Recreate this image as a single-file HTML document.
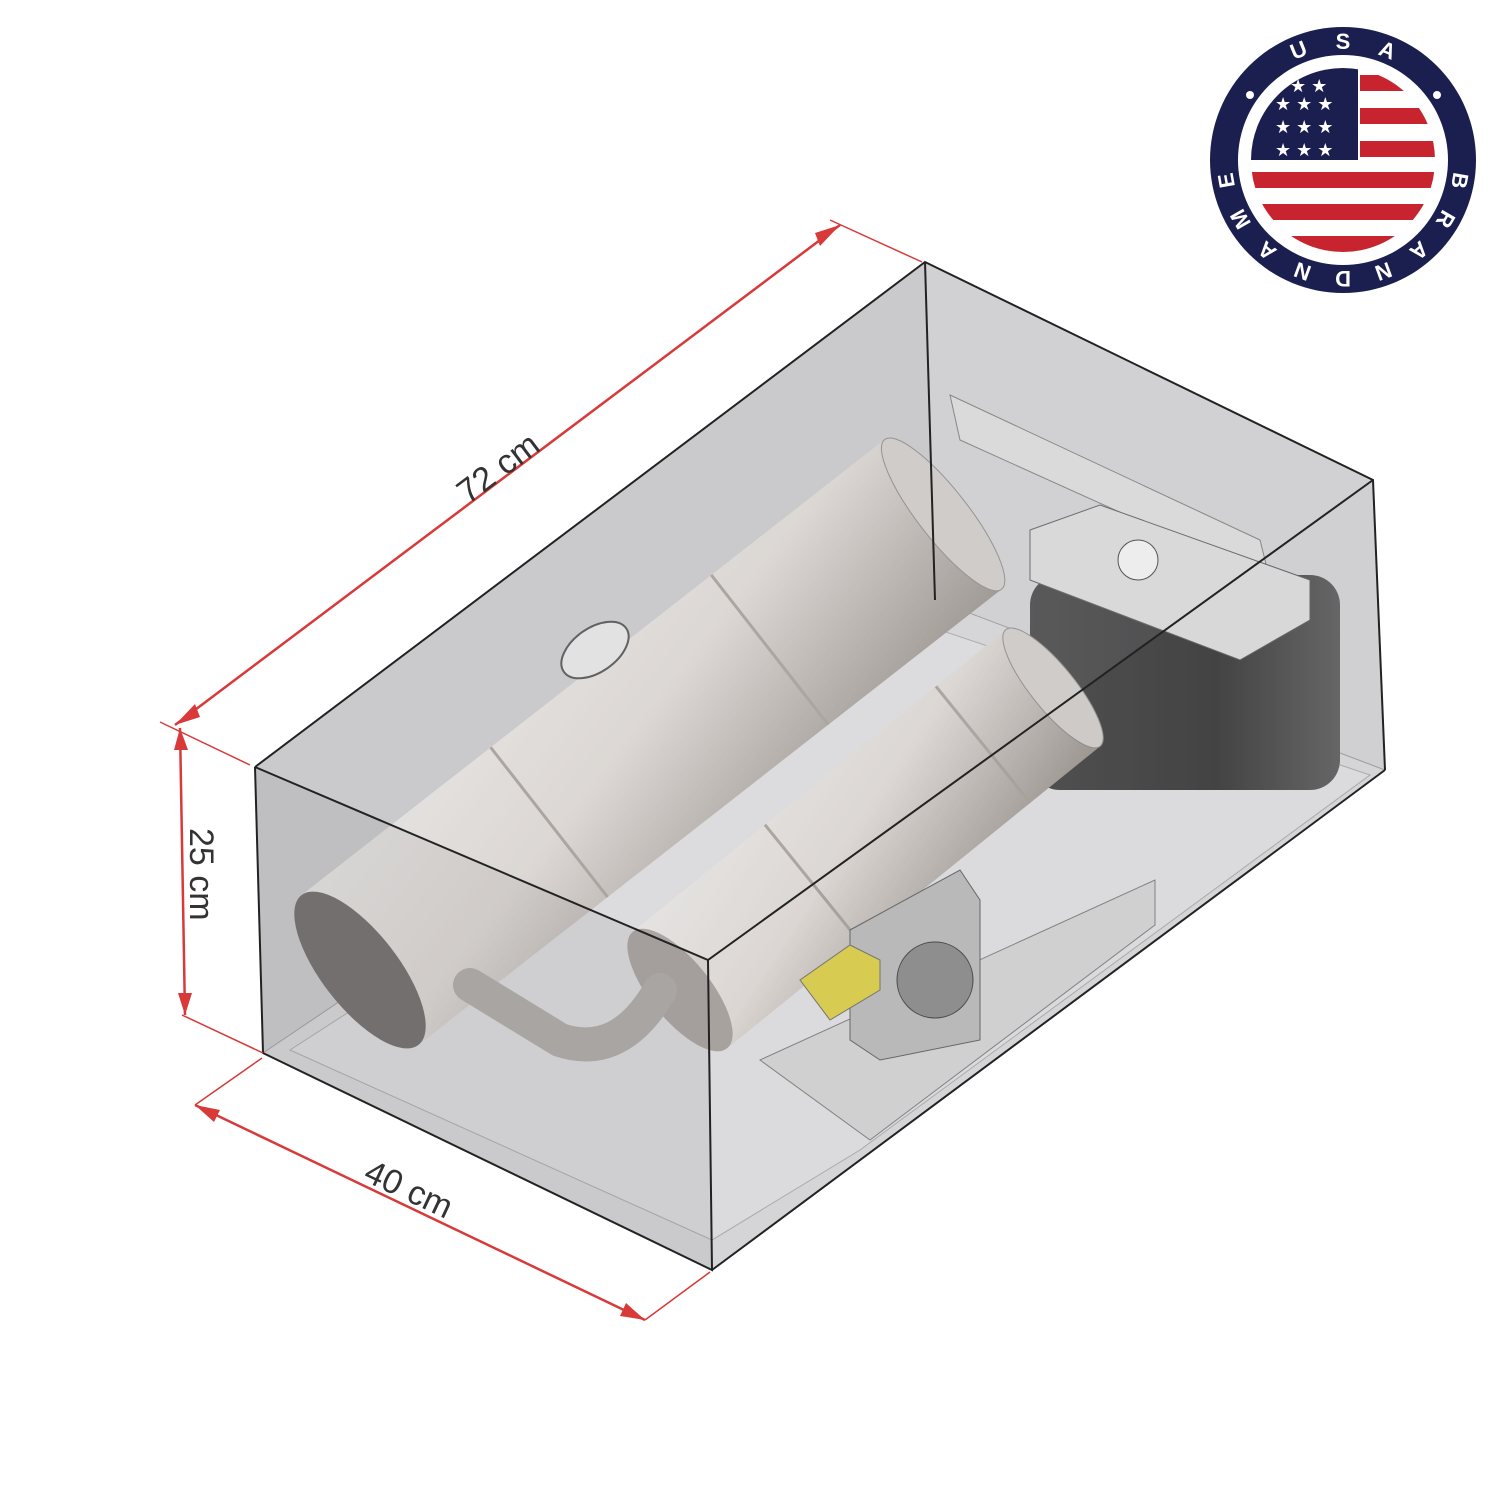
<!DOCTYPE html>
<html><head><meta charset="utf-8"><style>
html,body{margin:0;padding:0;background:#fff;width:1500px;height:1500px;overflow:hidden}
svg{display:block}
text{font-family:"Liberation Sans",sans-serif}
</style></head><body>
<svg width="1500" height="1500" viewBox="0 0 1500 1500" xmlns="http://www.w3.org/2000/svg">
<defs>
<linearGradient id="cyl" x1="0" y1="0" x2="1" y2="1">
<stop offset="0" stop-color="#f4f1ee"/><stop offset="0.45" stop-color="#e8e2dc"/><stop offset="1" stop-color="#9a928b"/>
</linearGradient>
<linearGradient id="blk" x1="0" y1="0" x2="1" y2="0">
<stop offset="0" stop-color="#3a3a3a"/><stop offset="0.6" stop-color="#2a2a2a"/><stop offset="1" stop-color="#555"/>
</linearGradient>
<clipPath id="flagc"><circle cx="1343" cy="160" r="92"/></clipPath>
</defs>

<polygon points="925,262 1373,480 1385,770 935,600" fill="#dadadc"/>
<polygon points="255,767 925,262 935,600 263,1053" fill="#d0d0d2"/>
<polygon points="263,1053 935,600 1385,770 712,1270" fill="#e0e0e2" stroke="#999" stroke-width="1"/>
<polygon points="290,1050 940,630 1370,775 860,1150 712,1240" fill="#e8e8ea" stroke="#aaa"/>

<polygon points="950,395 1260,540 1270,580 960,440" fill="#e6e6e6" stroke="#777"/>
<polygon points="760,1060 1155,880 1155,925 870,1140" fill="#dadada" stroke="#777"/>

<rect x="1030" y="575" width="310" height="215" rx="30" fill="url(#blk)"/>
<polygon points="1030,580 1030,530 1100,505 1310,580 1310,620 1240,660" fill="#e4e4e4" stroke="#555"/>
<circle cx="1138" cy="560" r="20" fill="#fff" stroke="#333"/>

<g transform="translate(360,970) rotate(-38)">
<rect x="0" y="-95" width="740" height="190" fill="url(#cyl)"/>
<ellipse cx="740" cy="0" rx="25" ry="95" fill="#d8d3ce" stroke="#888"/>
<line x1="240" y1="-95" x2="240" y2="95" stroke="#a8a09a" stroke-width="3"/>
<line x1="520" y1="-95" x2="520" y2="95" stroke="#a8a09a" stroke-width="3"/>
<ellipse cx="0" cy="0" rx="38" ry="95" fill="#615b57"/>
</g>
<g transform="translate(680,990) rotate(-39)">
<rect x="0" y="-75" width="480" height="150" fill="url(#cyl)"/>
<ellipse cx="480" cy="0" rx="22" ry="75" fill="#d8d3ce" stroke="#888"/>
<line x1="170" y1="-75" x2="170" y2="75" stroke="#a8a09a" stroke-width="3"/>
<line x1="390" y1="-75" x2="390" y2="75" stroke="#a8a09a" stroke-width="3"/>
<ellipse cx="0" cy="0" rx="30" ry="75" fill="#a8a19b"/>
</g>
<path d="M470,985 L560,1040 Q620,1060 660,990" fill="none" stroke="#b0aaa5" stroke-width="34" stroke-linecap="round"/>
<polygon points="850,930 960,870 980,900 980,1040 880,1060 850,1040" fill="#bdbdbd" stroke="#555"/>
<circle cx="935" cy="980" r="38" fill="#888" stroke="#333"/>
<polygon points="800,980 850,945 880,960 880,990 830,1020" fill="#e3d53a" stroke="#666"/>
<ellipse cx="595" cy="650" rx="38" ry="22" transform="rotate(-35 595 650)" fill="#f0f0f0" stroke="#444" stroke-width="2"/>

<polygon points="255,767 708,960 712,1270 263,1053" fill="#9a9aa0" fill-opacity="0.32"/>
<polygon points="255,767 925,262 1373,480 708,960" fill="#b8b8bc" fill-opacity="0.25"/>
<polygon points="708,960 1373,480 1385,770 712,1270" fill="#a8a8ad" fill-opacity="0.2"/>

<g fill="none" stroke="#222" stroke-width="2">
<polyline points="255,767 925,262 1373,480 1385,770"/>
<polyline points="255,767 708,960 1373,480"/>
<line x1="925" y1="262" x2="935" y2="600"/>
<polyline points="255,767 263,1053 712,1270 708,960"/>
<line x1="712" y1="1270" x2="1385" y2="770"/>
</g>

<g stroke="#d83a3a" stroke-width="2.5" fill="#d83a3a">
<line x1="175" y1="725" x2="840" y2="225"/>
<line x1="160" y1="722" x2="250" y2="765" stroke-width="1.5"/>
<line x1="830" y1="220" x2="922" y2="262" stroke-width="1.5"/>
<line x1="180" y1="728" x2="185" y2="1015"/>
<line x1="182" y1="1015" x2="263" y2="1053" stroke-width="1.5"/>
<line x1="195" y1="1105" x2="645" y2="1320"/>
<line x1="195" y1="1105" x2="262" y2="1058" stroke-width="1.5"/>
<line x1="645" y1="1320" x2="710" y2="1272" stroke-width="1.5"/>
</g>
<g fill="#d83a3a">
<polygon points="175,725 195,704 200,717"/>
<polygon points="840,225 820,246 815,233"/>
<polygon points="180,728 174,750 188,750"/>
<polygon points="185,1015 178,993 192,993"/>
<polygon points="195,1105 220,1110 214,1122"/>
<polygon points="645,1320 620,1316 626,1303"/>
</g>
<g font-size="34" fill="#333">
<text transform="translate(468,505) rotate(-37)">72 cm</text>
<text transform="translate(190,828) rotate(90)">25 cm</text>
<text transform="translate(362,1180) rotate(25)">40 cm</text>
</g>

<circle cx="1343" cy="160" r="133" fill="#1b1f4f"/>
<circle cx="1343" cy="160" r="105" fill="#fff"/>
<g clip-path="url(#flagc)">
<rect x="1250" y="60" width="200" height="200" fill="#fff"/>
<g fill="#c8242f">
<rect x="1360" y="75" width="100" height="16"/>
<rect x="1360" y="108" width="100" height="16"/>
<rect x="1360" y="141" width="100" height="16"/>
<rect x="1240" y="172" width="220" height="16"/>
<rect x="1240" y="204" width="220" height="16"/>
<rect x="1240" y="236" width="220" height="16"/>
</g>
<rect x="1240" y="60" width="118" height="100" fill="#1b1f4f"/>
<g fill="#fff" font-size="18"><text x="1275" y="110">★ ★ ★</text><text x="1275" y="133">★ ★ ★</text><text x="1275" y="156">★ ★ ★</text><text x="1290" y="92">★ ★</text></g>
</g>
<g fill="#fff" font-size="22" font-weight="bold" text-anchor="middle">
<text transform="translate(1343,160) rotate(-22) translate(0,-111)">U</text>
<text transform="translate(1343,160) translate(0,-111)">S</text>
<text transform="translate(1343,160) rotate(22) translate(0,-111)">A</text>
<text transform="translate(1343,160) rotate(-80) translate(0,119) rotate(180)" y="8">B</text>
<text transform="translate(1343,160) rotate(-60) translate(0,119) rotate(180)" y="8">R</text>
<text transform="translate(1343,160) rotate(-40) translate(0,119) rotate(180)" y="8">A</text>
<text transform="translate(1343,160) rotate(-20) translate(0,119) rotate(180)" y="8">N</text>
<text transform="translate(1343,160) rotate(0) translate(0,119) rotate(180)" y="8">D</text>
<text transform="translate(1343,160) rotate(20) translate(0,119) rotate(180)" y="8">N</text>
<text transform="translate(1343,160) rotate(40) translate(0,119) rotate(180)" y="8">A</text>
<text transform="translate(1343,160) rotate(60) translate(0,119) rotate(180)" y="8">M</text>
<text transform="translate(1343,160) rotate(80) translate(0,119) rotate(180)" y="8">E</text>
</g>
<circle cx="1250" cy="95" r="4" fill="#fff"/><circle cx="1437" cy="95" r="4" fill="#fff"/>
</svg>
</body></html>
